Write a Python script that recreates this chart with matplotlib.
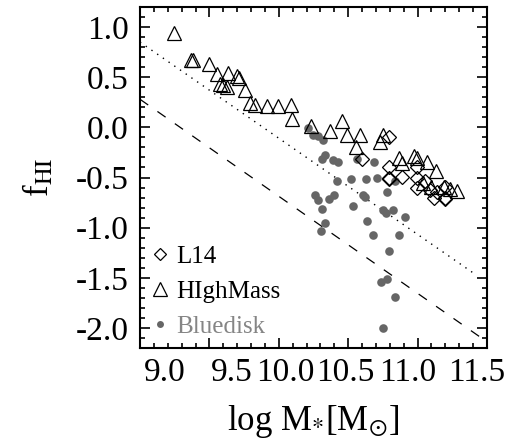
import matplotlib
matplotlib.use("Agg")
import matplotlib.pyplot as plt
from matplotlib.lines import Line2D
from matplotlib.ticker import MultipleLocator
from matplotlib.transforms import ScaledTranslation
import numpy as np

plt.rcParams["font.family"] = "serif"
plt.rcParams["font.serif"] = ["Liberation Serif", "DejaVu Serif"]
plt.rcParams["mathtext.fontset"] = "stix"

# HIghMass sample (triangles)
highmass_m = [9.247, 9.365, 9.384, 9.497, 9.557, 9.636, 9.700, 9.713, 9.576,
              9.600, 9.625, 9.756, 9.790, 9.830, 9.917, 9.996, 10.085, 10.095,
              10.235, 10.369, 10.458, 10.489, 10.585, 10.556, 10.729, 10.749,
              10.868, 10.885, 10.975, 10.995, 11.065, 11.130, 11.100, 11.040,
              11.190, 11.233, 11.283]
highmass_f = [0.94, 0.674, 0.674, 0.631, 0.532, 0.542, 0.515, 0.49, 0.435,
              0.425, 0.40, 0.375, 0.243, 0.226, 0.21, 0.216, 0.226, 0.085,
              0.01, -0.04, 0.06, -0.075, -0.078, -0.195, -0.15, -0.08,
              -0.31, -0.36, -0.29, -0.31, -0.35, -0.44, -0.59, -0.55,
              -0.59, -0.615, -0.63]

# L14 sample (diamonds)
l14_m = [10.797, 10.597, 10.797, 10.797, 10.797, 10.890, 10.993, 10.993,
         10.993, 11.050, 11.090, 11.140, 11.120, 11.197, 11.197, 11.200]
l14_f = [-0.10, -0.315, -0.40, -0.50, -0.51, -0.495, -0.40, -0.50,
         -0.60, -0.535, -0.62, -0.645, -0.705, -0.59, -0.705, -0.71]

# Bluedisk sample (filled circles)
bluedisk_m = [10.213, 10.249, 10.285, 10.316, 10.333, 10.309, 10.388, 10.429,
              10.566, 10.686, 10.417, 10.520, 10.626, 10.710, 10.837, 10.261,
              10.285, 10.364, 10.398, 10.309, 10.604, 10.620, 10.537, 10.782,
              10.753, 10.772, 10.820, 10.909, 10.333, 10.302, 10.633, 10.676,
              10.866, 10.794, 10.736, 10.777, 10.837, 10.749]
bluedisk_f = [-0.006, -0.073, -0.09, -0.122, -0.272, -0.315, -0.322, -0.345,
              -0.315, -0.349, -0.531, -0.514, -0.51, -0.504, -0.537, -0.677,
              -0.72, -0.71, -0.677, -0.81, -0.677, -0.693, -0.78, -0.647,
              -0.82, -0.853, -0.827, -0.892, -0.952, -1.036, -0.929, -1.069,
              -1.076, -1.228, -1.54, -1.51, -1.69, -1.998]

# reference relations (end points)
dotted_m = [9.0, 11.42]
dotted_f = [0.85, -1.47]
dashed_m = [9.0, 11.46]
dashed_f = [0.28, -2.10]

xticks = [9.0, 9.5, 10.0, 10.5, 11.0, 11.5]
xticklabels = ["9.0", "9.5", "10.0", "10.5", "11.0", "11.5"]
yticks = [1.0, 0.5, 0.0, -0.5, -1.0, -1.5, -2.0]
yticklabels = ["1.0", "0.5", "0.0", "-0.5", "-1.0", "-1.5", "-2.0"]

grey = "#666666"

fig = plt.figure(figsize=(5.23, 4.45), dpi=100)
ax = fig.add_axes([140 / 523, 1 - 348 / 445, 347 / 523, 341 / 445])

ax.plot(dotted_m, dotted_f, color="k", lw=1.0, ls=(0, (1, 4)))
ax.plot(dashed_m, dashed_f, color="k", lw=0.9, ls=(0, (8, 9)))

ax.plot(bluedisk_m, bluedisk_f, "o", ms=6.2, mfc=grey, mec=grey, mew=0)
ax.plot(highmass_m, highmass_f, "^", ms=9.5, mfc="none", mec="k", mew=0.9)
ax.plot(l14_m, l14_f, "D", ms=6.8, mfc="none", mec="k", mew=0.9)

ax.set_xlim(9.0, 11.5)
ax.set_ylim(-2.2, 1.2)
ax.set_xticks(xticks)
ax.set_xticklabels(xticklabels, fontsize=24)
ax.set_yticks(yticks)
ax.set_yticklabels(yticklabels, fontsize=24)
ax.xaxis.set_minor_locator(MultipleLocator(0.1))
ax.yaxis.set_minor_locator(MultipleLocator(0.1))
ax.tick_params(which="both", direction="in", top=True, right=True, width=1.2)
ax.tick_params(which="major", length=7)
ax.tick_params(which="minor", length=3.5)
ax.tick_params(axis="x", which="major", pad=7)
ax.tick_params(axis="y", which="major", pad=8)
for sp in ax.spines.values():
    sp.set_linewidth(1.5)

# IDL placed the x labels slightly off their ticks (shift in pixels)
shifts = [25, 22, 7, -3, -10, -10]
for lab, dx in zip(ax.get_xticklabels(), shifts):
    lab.set_transform(lab.get_transform() + ScaledTranslation(dx / fig.dpi, 0, fig.dpi_scale_trans))

ax.set_xlabel(r"log M$_{*}$[M$_{\odot}$]", fontsize=25, labelpad=11)
ax.set_ylabel(r"f$_{\rm HI}$", fontsize=25, labelpad=14)

handles = [
    Line2D([], [], ls="none", marker="D", ms=6.2, mfc="none", mec="k", mew=0.9),
    Line2D([], [], ls="none", marker="^", ms=9.5, mfc="none", mec="k", mew=0.9),
    Line2D([], [], ls="none", marker="o", ms=5.0, mfc=grey, mec=grey, mew=0),
]
leg = ax.legend(handles, ["L14", "HIghMass", "Bluedisk"], loc="lower left",
                frameon=False, fontsize=18, handlelength=0.8, handletextpad=0.25,
                labelspacing=0.5, borderaxespad=0.2, borderpad=0.2)
leg.get_texts()[2].set_color("#858585")

fig.savefig("out.png", dpi=100)
